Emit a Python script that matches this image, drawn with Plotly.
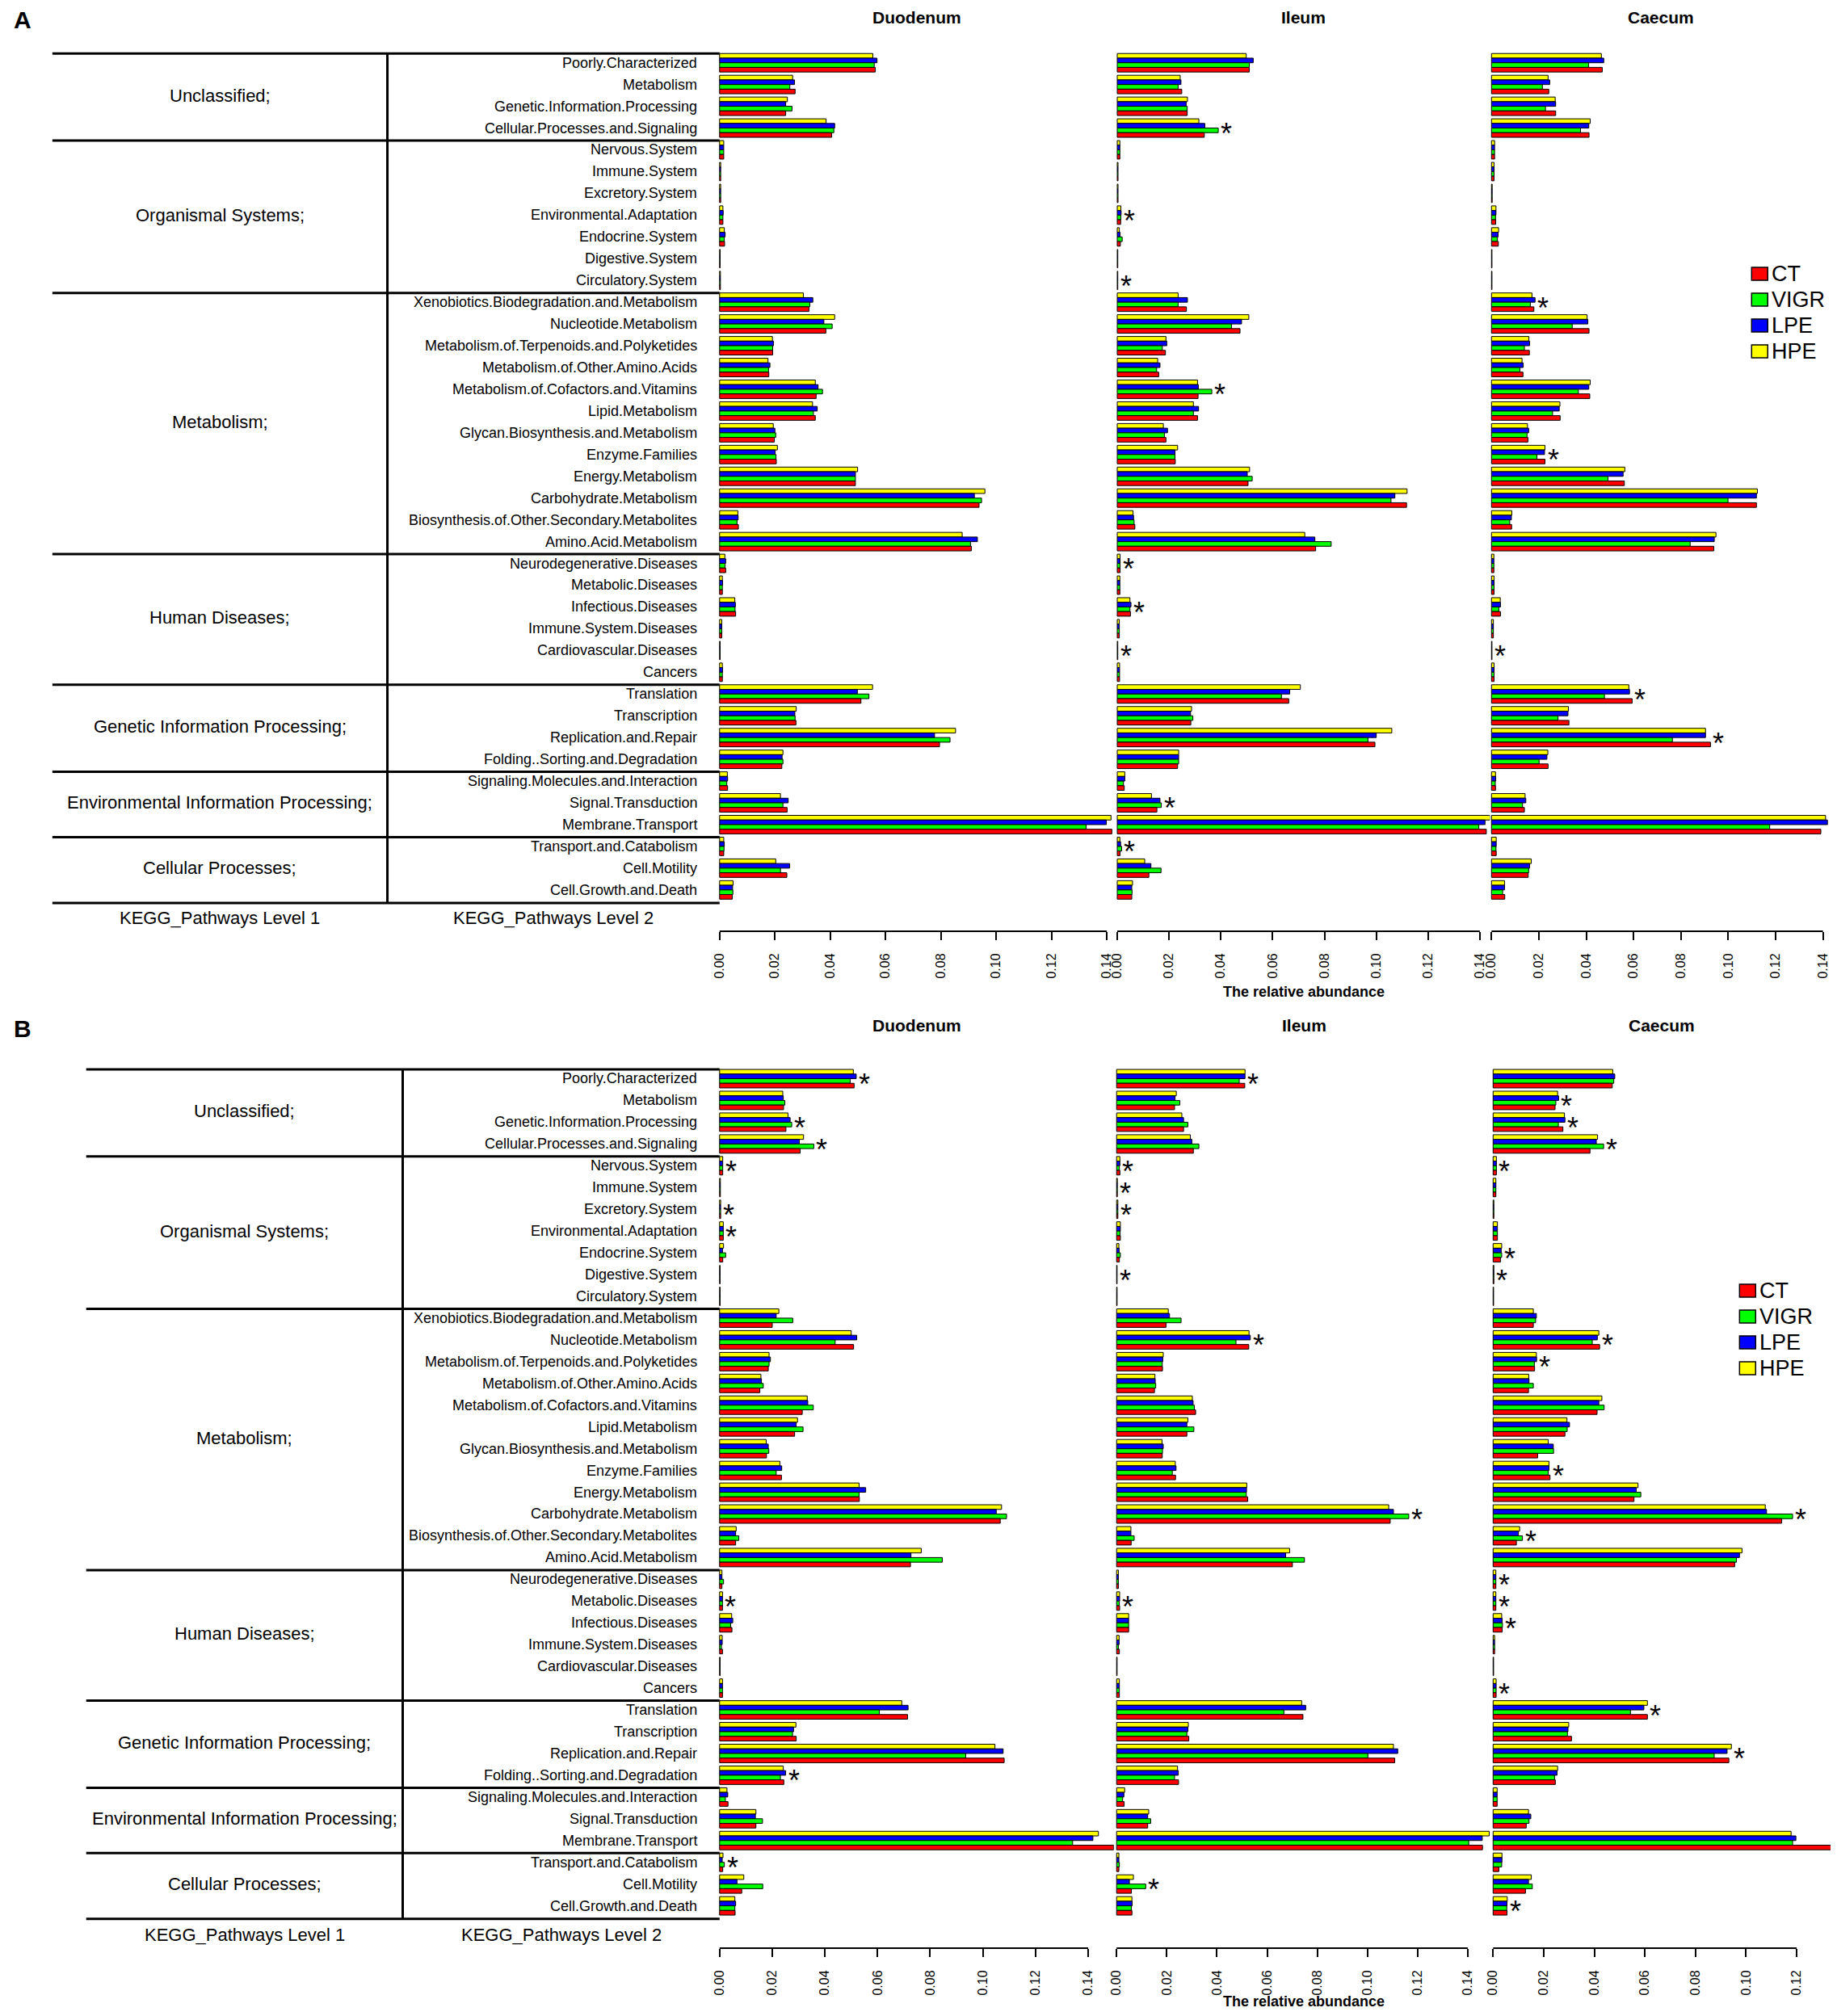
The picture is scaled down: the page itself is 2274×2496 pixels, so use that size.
"""
KEGG level-2 pathway abundance (PICRUSt style) for Duodenum, Ileum and Caecum,
two panels (A, B), grouped horizontal bars for CT / VIGR / LPE / HPE.
"""

import plotly.graph_objects as go

# ---------------------------------------------------------------- data
LEVEL1 = ["Unclassified;", "Organismal Systems;", "Metabolism;", "Human Diseases;",
          "Genetic Information Processing;", "Environmental Information Processing;",
          "Cellular Processes;"]
LEVEL1_COUNTS = [4, 7, 12, 6, 4, 3, 3]

LEVEL2 = ["Poorly.Characterized", "Metabolism", "Genetic.Information.Processing",
          "Cellular.Processes.and.Signaling", "Nervous.System", "Immune.System",
          "Excretory.System", "Environmental.Adaptation", "Endocrine.System",
          "Digestive.System", "Circulatory.System",
          "Xenobiotics.Biodegradation.and.Metabolism", "Nucleotide.Metabolism",
          "Metabolism.of.Terpenoids.and.Polyketides", "Metabolism.of.Other.Amino.Acids",
          "Metabolism.of.Cofactors.and.Vitamins", "Lipid.Metabolism",
          "Glycan.Biosynthesis.and.Metabolism", "Enzyme.Families", "Energy.Metabolism",
          "Carbohydrate.Metabolism", "Biosynthesis.of.Other.Secondary.Metabolites",
          "Amino.Acid.Metabolism", "Neurodegenerative.Diseases", "Metabolic.Diseases",
          "Infectious.Diseases", "Immune.System.Diseases", "Cardiovascular.Diseases",
          "Cancers", "Translation", "Transcription", "Replication.and.Repair",
          "Folding..Sorting.and.Degradation", "Signaling.Molecules.and.Interaction",
          "Signal.Transduction", "Membrane.Transport", "Transport.and.Catabolism",
          "Cell.Motility", "Cell.Growth.and.Death"]

GROUPS = ["CT", "VIGR", "LPE", "HPE"]
COLORS = {"CT": "#FF0000", "VIGR": "#00FF00", "LPE": "#0000FF", "HPE": "#FFFF00"}
SITES = ["Duodenum", "Ileum", "Caecum"]

# panel A - Duodenum
A_DUO_CT = [0.0563, 0.0273, 0.0239, 0.0405, 0.0015, 0.0004, 0.0004, 0.0012, 0.0018, 0.0002, 0.0003, 0.0323, 0.0384, 0.0192, 0.0178, 0.0349, 0.0346, 0.0198, 0.0205, 0.0491, 0.0938, 0.0068, 0.0910, 0.0022, 0.0010, 0.0058, 0.0008, 0.0002, 0.0010, 0.0511, 0.0276, 0.0795, 0.0225, 0.0029, 0.0244, 0.1418, 0.0015, 0.0243, 0.0046]
A_DUO_VIGR = [0.0559, 0.0254, 0.0262, 0.0413, 0.0015, 0.0004, 0.0004, 0.0012, 0.0017, 0.0002, 0.0003, 0.0326, 0.0407, 0.0192, 0.0177, 0.0372, 0.0339, 0.0203, 0.0204, 0.0491, 0.0947, 0.0063, 0.0907, 0.0020, 0.0010, 0.0056, 0.0008, 0.0002, 0.0010, 0.0540, 0.0273, 0.0833, 0.0229, 0.0026, 0.0229, 0.1325, 0.0016, 0.0220, 0.0048]
A_DUO_LPE = [0.0569, 0.0271, 0.0239, 0.0416, 0.0015, 0.0004, 0.0004, 0.0013, 0.0020, 0.0002, 0.0003, 0.0337, 0.0377, 0.0195, 0.0182, 0.0356, 0.0353, 0.0200, 0.0201, 0.0491, 0.0921, 0.0067, 0.0932, 0.0022, 0.0011, 0.0057, 0.0008, 0.0002, 0.0011, 0.0498, 0.0272, 0.0777, 0.0226, 0.0029, 0.0248, 0.1398, 0.0017, 0.0253, 0.0047]
A_DUO_HPE = [0.0554, 0.0264, 0.0245, 0.0385, 0.0015, 0.0004, 0.0004, 0.0012, 0.0017, 0.0002, 0.0003, 0.0303, 0.0416, 0.0191, 0.0175, 0.0346, 0.0336, 0.0194, 0.0209, 0.0499, 0.0959, 0.0066, 0.0877, 0.0019, 0.0010, 0.0055, 0.0008, 0.0002, 0.0010, 0.0553, 0.0277, 0.0853, 0.0229, 0.0028, 0.0220, 0.1415, 0.0015, 0.0203, 0.0049]

# panel A - Ileum
A_ILE_CT = [0.0510, 0.0249, 0.0270, 0.0336, 0.0010, 0.0003, 0.0003, 0.0013, 0.0012, 0.0002, 0.0002, 0.0267, 0.0474, 0.0186, 0.0160, 0.0312, 0.0310, 0.0188, 0.0224, 0.0505, 0.1117, 0.0068, 0.0766, 0.0011, 0.0010, 0.0051, 0.0008, 0.0002, 0.0009, 0.0662, 0.0284, 0.0995, 0.0233, 0.0027, 0.0153, 0.1425, 0.0011, 0.0122, 0.0056]
A_ILE_VIGR = [0.0510, 0.0235, 0.0270, 0.0390, 0.0010, 0.0003, 0.0003, 0.0014, 0.0019, 0.0002, 0.0002, 0.0235, 0.0441, 0.0174, 0.0152, 0.0365, 0.0294, 0.0182, 0.0223, 0.0521, 0.1057, 0.0065, 0.0826, 0.0011, 0.0010, 0.0049, 0.0008, 0.0002, 0.0009, 0.0634, 0.0292, 0.0968, 0.0237, 0.0024, 0.0170, 0.1396, 0.0017, 0.0169, 0.0057]
A_ILE_LPE = [0.0525, 0.0246, 0.0266, 0.0338, 0.0010, 0.0003, 0.0003, 0.0015, 0.0011, 0.0002, 0.0002, 0.0271, 0.0480, 0.0191, 0.0165, 0.0313, 0.0314, 0.0194, 0.0223, 0.0502, 0.1072, 0.0063, 0.0763, 0.0011, 0.0010, 0.0053, 0.0008, 0.0002, 0.0009, 0.0666, 0.0283, 0.1000, 0.0237, 0.0029, 0.0165, 0.1420, 0.0013, 0.0130, 0.0056]
A_ILE_HPE = [0.0498, 0.0243, 0.0271, 0.0315, 0.0010, 0.0003, 0.0003, 0.0014, 0.0008, 0.0002, 0.0002, 0.0235, 0.0508, 0.0188, 0.0156, 0.0310, 0.0294, 0.0178, 0.0233, 0.0511, 0.1119, 0.0061, 0.0724, 0.0011, 0.0010, 0.0049, 0.0008, 0.0002, 0.0009, 0.0707, 0.0287, 0.1060, 0.0237, 0.0029, 0.0132, 0.1440, 0.0010, 0.0106, 0.0059]

# panel A - Caecum
A_CAE_CT = [0.0468, 0.0242, 0.0271, 0.0412, 0.0013, 0.0011, 0.0003, 0.0018, 0.0029, 0.0002, 0.0002, 0.0179, 0.0412, 0.0160, 0.0133, 0.0415, 0.0290, 0.0154, 0.0226, 0.0561, 0.1119, 0.0085, 0.0939, 0.0010, 0.0011, 0.0038, 0.0008, 0.0002, 0.0011, 0.0594, 0.0327, 0.0925, 0.0239, 0.0017, 0.0139, 0.1391, 0.0020, 0.0155, 0.0056]
A_CAE_VIGR = [0.0410, 0.0215, 0.0228, 0.0376, 0.0013, 0.0011, 0.0003, 0.0017, 0.0025, 0.0002, 0.0002, 0.0164, 0.0341, 0.0139, 0.0120, 0.0367, 0.0258, 0.0150, 0.0192, 0.0492, 0.0999, 0.0077, 0.0839, 0.0010, 0.0011, 0.0031, 0.0008, 0.0002, 0.0011, 0.0477, 0.0281, 0.0764, 0.0201, 0.0016, 0.0131, 0.1175, 0.0019, 0.0157, 0.0047]
A_CAE_LPE = [0.0474, 0.0246, 0.0271, 0.0411, 0.0013, 0.0011, 0.0003, 0.0019, 0.0028, 0.0002, 0.0002, 0.0184, 0.0407, 0.0161, 0.0134, 0.0411, 0.0286, 0.0157, 0.0224, 0.0556, 0.1119, 0.0084, 0.0941, 0.0010, 0.0011, 0.0038, 0.0008, 0.0002, 0.0011, 0.0583, 0.0323, 0.0904, 0.0234, 0.0018, 0.0145, 0.1419, 0.0020, 0.0161, 0.0055]
A_CAE_HPE = [0.0464, 0.0239, 0.0269, 0.0417, 0.0013, 0.0011, 0.0003, 0.0019, 0.0030, 0.0002, 0.0002, 0.0171, 0.0404, 0.0158, 0.0129, 0.0417, 0.0289, 0.0152, 0.0226, 0.0563, 0.1123, 0.0086, 0.0948, 0.0010, 0.0011, 0.0037, 0.0008, 0.0002, 0.0011, 0.0580, 0.0325, 0.0904, 0.0238, 0.0017, 0.0142, 0.1411, 0.0020, 0.0168, 0.0055]

# panel B - Duodenum
B_DUO_CT = [0.0511, 0.0243, 0.0252, 0.0306, 0.0012, 0.0003, 0.0004, 0.0014, 0.0012, 0.0002, 0.0002, 0.0200, 0.0509, 0.0185, 0.0153, 0.0314, 0.0285, 0.0178, 0.0235, 0.0531, 0.1066, 0.0061, 0.0725, 0.0009, 0.0011, 0.0047, 0.0011, 0.0002, 0.0011, 0.0714, 0.0291, 0.1081, 0.0244, 0.0032, 0.0138, 0.1497, 0.0012, 0.0084, 0.0059]
B_DUO_VIGR = [0.0496, 0.0248, 0.0274, 0.0358, 0.0012, 0.0003, 0.0004, 0.0014, 0.0023, 0.0002, 0.0002, 0.0278, 0.0439, 0.0188, 0.0166, 0.0356, 0.0317, 0.0187, 0.0215, 0.0530, 0.1090, 0.0073, 0.0846, 0.0015, 0.0011, 0.0042, 0.0007, 0.0002, 0.0011, 0.0607, 0.0277, 0.0935, 0.0231, 0.0022, 0.0163, 0.1341, 0.0018, 0.0164, 0.0058]
B_DUO_LPE = [0.0519, 0.0242, 0.0268, 0.0303, 0.0012, 0.0003, 0.0004, 0.0014, 0.0011, 0.0002, 0.0002, 0.0215, 0.0521, 0.0193, 0.0159, 0.0335, 0.0291, 0.0185, 0.0236, 0.0555, 0.1051, 0.0061, 0.0727, 0.0009, 0.0011, 0.0050, 0.0010, 0.0002, 0.0011, 0.0716, 0.0281, 0.1077, 0.0251, 0.0031, 0.0136, 0.1418, 0.0010, 0.0066, 0.0061]
B_DUO_HPE = [0.0508, 0.0240, 0.0260, 0.0319, 0.0012, 0.0003, 0.0004, 0.0014, 0.0015, 0.0002, 0.0002, 0.0225, 0.0500, 0.0188, 0.0157, 0.0333, 0.0296, 0.0177, 0.0229, 0.0530, 0.1071, 0.0063, 0.0766, 0.0009, 0.0011, 0.0046, 0.0010, 0.0002, 0.0011, 0.0692, 0.0290, 0.1046, 0.0242, 0.0028, 0.0138, 0.1439, 0.0013, 0.0092, 0.0058]

# panel B - Ileum
B_ILE_CT = [0.0511, 0.0231, 0.0267, 0.0306, 0.0013, 0.0003, 0.0005, 0.0015, 0.0011, 0.0002, 0.0002, 0.0197, 0.0527, 0.0183, 0.0151, 0.0315, 0.0280, 0.0182, 0.0235, 0.0523, 0.1091, 0.0058, 0.0701, 0.0007, 0.0012, 0.0048, 0.0011, 0.0002, 0.0011, 0.0743, 0.0288, 0.1109, 0.0247, 0.0030, 0.0124, 0.1459, 0.0009, 0.0059, 0.0061]
B_ILE_VIGR = [0.0489, 0.0252, 0.0284, 0.0328, 0.0011, 0.0003, 0.0005, 0.0014, 0.0015, 0.0002, 0.0002, 0.0257, 0.0476, 0.0182, 0.0156, 0.0310, 0.0308, 0.0183, 0.0222, 0.0517, 0.1165, 0.0070, 0.0749, 0.0007, 0.0011, 0.0048, 0.0007, 0.0002, 0.0011, 0.0667, 0.0280, 0.1002, 0.0231, 0.0024, 0.0136, 0.1404, 0.0011, 0.0116, 0.0059]
B_ILE_LPE = [0.0512, 0.0233, 0.0267, 0.0300, 0.0013, 0.0003, 0.0005, 0.0015, 0.0010, 0.0002, 0.0002, 0.0211, 0.0533, 0.0184, 0.0154, 0.0305, 0.0280, 0.0186, 0.0237, 0.0518, 0.1104, 0.0057, 0.0674, 0.0007, 0.0012, 0.0048, 0.0010, 0.0002, 0.0011, 0.0754, 0.0284, 0.1121, 0.0246, 0.0029, 0.0124, 0.1458, 0.0009, 0.0051, 0.0062]
B_ILE_HPE = [0.0512, 0.0238, 0.0260, 0.0294, 0.0013, 0.0003, 0.0005, 0.0015, 0.0009, 0.0002, 0.0002, 0.0206, 0.0528, 0.0186, 0.0153, 0.0302, 0.0284, 0.0181, 0.0234, 0.0519, 0.1085, 0.0057, 0.0690, 0.0007, 0.0012, 0.0048, 0.0010, 0.0002, 0.0011, 0.0738, 0.0286, 0.1104, 0.0243, 0.0032, 0.0128, 0.1486, 0.0009, 0.0067, 0.0061]

# panel B - Caecum
B_CAE_CT = [0.0471, 0.0245, 0.0276, 0.0383, 0.0013, 0.0011, 0.0003, 0.0017, 0.0029, 0.0003, 0.0002, 0.0159, 0.0421, 0.0164, 0.0140, 0.0411, 0.0284, 0.0176, 0.0225, 0.0557, 0.1141, 0.0092, 0.0955, 0.0011, 0.0011, 0.0036, 0.0006, 0.0002, 0.0012, 0.0610, 0.0310, 0.0932, 0.0246, 0.0016, 0.0131, 0.1344, 0.0023, 0.0128, 0.0055]
B_CAE_VIGR = [0.0477, 0.0248, 0.0258, 0.0437, 0.0013, 0.0011, 0.0003, 0.0017, 0.0034, 0.0003, 0.0002, 0.0168, 0.0392, 0.0163, 0.0159, 0.0439, 0.0293, 0.0239, 0.0218, 0.0584, 0.1184, 0.0116, 0.0962, 0.0011, 0.0011, 0.0037, 0.0006, 0.0002, 0.0012, 0.0543, 0.0294, 0.0874, 0.0243, 0.0016, 0.0142, 0.1184, 0.0034, 0.0155, 0.0054]
B_CAE_LPE = [0.0481, 0.0259, 0.0284, 0.0408, 0.0013, 0.0011, 0.0003, 0.0017, 0.0032, 0.0003, 0.0002, 0.0171, 0.0412, 0.0172, 0.0142, 0.0418, 0.0302, 0.0238, 0.0221, 0.0566, 0.1081, 0.0100, 0.0974, 0.0011, 0.0011, 0.0036, 0.0006, 0.0002, 0.0012, 0.0596, 0.0296, 0.0925, 0.0253, 0.0016, 0.0149, 0.1197, 0.0035, 0.0140, 0.0055]
B_CAE_HPE = [0.0473, 0.0255, 0.0282, 0.0413, 0.0013, 0.0011, 0.0003, 0.0017, 0.0034, 0.0003, 0.0002, 0.0159, 0.0418, 0.0171, 0.0141, 0.0430, 0.0292, 0.0218, 0.0221, 0.0573, 0.1076, 0.0105, 0.0984, 0.0011, 0.0011, 0.0034, 0.0006, 0.0002, 0.0012, 0.0610, 0.0299, 0.0942, 0.0255, 0.0016, 0.0140, 0.1178, 0.0035, 0.0151, 0.0056]

# pathways marked as significant (*)
A_DUO_SIG = []
A_ILE_SIG = ["Cellular.Processes.and.Signaling", "Environmental.Adaptation", "Circulatory.System",
             "Metabolism.of.Cofactors.and.Vitamins", "Neurodegenerative.Diseases",
             "Infectious.Diseases", "Cardiovascular.Diseases", "Signal.Transduction",
             "Transport.and.Catabolism"]
A_CAE_SIG = ["Xenobiotics.Biodegradation.and.Metabolism", "Enzyme.Families",
             "Cardiovascular.Diseases", "Translation", "Replication.and.Repair"]
B_DUO_SIG = ["Poorly.Characterized", "Genetic.Information.Processing",
             "Cellular.Processes.and.Signaling", "Nervous.System", "Excretory.System",
             "Environmental.Adaptation", "Metabolic.Diseases",
             "Folding..Sorting.and.Degradation", "Transport.and.Catabolism"]
B_ILE_SIG = ["Poorly.Characterized", "Nervous.System", "Immune.System", "Excretory.System",
             "Digestive.System", "Nucleotide.Metabolism", "Carbohydrate.Metabolism",
             "Metabolic.Diseases", "Cell.Motility"]
B_CAE_SIG = ["Metabolism", "Genetic.Information.Processing", "Cellular.Processes.and.Signaling",
             "Nervous.System", "Endocrine.System", "Digestive.System", "Nucleotide.Metabolism",
             "Metabolism.of.Terpenoids.and.Polyketides", "Enzyme.Families",
             "Carbohydrate.Metabolism", "Biosynthesis.of.Other.Secondary.Metabolites",
             "Neurodegenerative.Diseases", "Metabolic.Diseases", "Infectious.Diseases",
             "Cancers", "Translation", "Replication.and.Repair", "Cell.Growth.and.Death"]

TICKS_14 = [0.00, 0.02, 0.04, 0.06, 0.08, 0.10, 0.12, 0.14]
TICKS_12 = [0.00, 0.02, 0.04, 0.06, 0.08, 0.10, 0.12]

# ---------------------------------------------------------------- layout geometry (pixels)
PAGE_W, PAGE_H = 2274, 2496
BODY = 8                      # default <body> margin of the html page
W, H = PAGE_W - 2 * BODY, PAGE_H - 2 * BODY
FONT = "Liberation Sans, Arial, Helvetica, sans-serif"
ROW_PITCH = 26.95
EDGE = 0.075                  # table lines sit on the bar-group edges, not mid-gap


def px(x):
    return min(max((x - BODY) / W, 0.0), 1.0)


def py(y):
    return min(max(1 - (y - BODY) / H, 0.0), 1.0)


panels = [
    dict(tag="A", row0=77.7, title_y=21, axis_y=1153, xlab_y=1228, kegg_y=1136,
         tab_left=58, tab_mid=474, legend_x=2168, legend_y=339,
         cols=[(886.5, 3435, 1376), (1380.3, 3216, 1843), (1845, 2940, 2266)],
         ticks=[TICKS_14, TICKS_14, TICKS_14],
         data=[dict(CT=A_DUO_CT, VIGR=A_DUO_VIGR, LPE=A_DUO_LPE, HPE=A_DUO_HPE),
               dict(CT=A_ILE_CT, VIGR=A_ILE_VIGR, LPE=A_ILE_LPE, HPE=A_ILE_HPE),
               dict(CT=A_CAE_CT, VIGR=A_CAE_VIGR, LPE=A_CAE_LPE, HPE=A_CAE_HPE)],
         sig=[A_DUO_SIG, A_ILE_SIG, A_CAE_SIG]),
    dict(tag="B", row0=1335.5, title_y=1269, axis_y=2412, xlab_y=2478, kegg_y=2395,
         tab_left=100, tab_mid=493, legend_x=2153, legend_y=1598,
         cols=[(886.5, 3269, 1376), (1379.5, 3114, 1845), (1847, 3141, 2266)],
         ticks=[TICKS_14, TICKS_14, TICKS_12],
         data=[dict(CT=B_DUO_CT, VIGR=B_DUO_VIGR, LPE=B_DUO_LPE, HPE=B_DUO_HPE),
               dict(CT=B_ILE_CT, VIGR=B_ILE_VIGR, LPE=B_ILE_LPE, HPE=B_ILE_HPE),
               dict(CT=B_CAE_CT, VIGR=B_CAE_VIGR, LPE=B_CAE_LPE, HPE=B_CAE_HPE)],
         sig=[B_DUO_SIG, B_ILE_SIG, B_CAE_SIG]),
]

fig = go.Figure()
shapes, annotations, axes = [], [], {}
n = len(LEVEL2)

for p, pan in enumerate(panels):
    yname = "y" if p == 0 else "y2"
    ykey = "yaxis" if p == 0 else "yaxis2"
    top = pan["row0"] - ROW_PITCH / 2
    bottom = top + n * ROW_PITCH
    axes[ykey] = dict(domain=[py(bottom), py(top)], type="category",
                      categoryorder="array", categoryarray=LEVEL2,
                      range=[n - 0.5, -0.5], showticklabels=False, showgrid=False,
                      zeroline=False, showline=False, ticks="")

    for c, (zero, ppu, right) in enumerate(pan["cols"]):
        k = p * 3 + c + 1
        xname = "x" if k == 1 else f"x{k}"
        xkey = "xaxis" if k == 1 else f"xaxis{k}"
        pad = 2.0
        ticks = pan["ticks"][c]
        axes[xkey] = dict(domain=[px(zero - pad), px(right)],
                          range=[-pad / ppu, (right - zero) / ppu],
                          anchor="free", position=py(pan["axis_y"]),
                          tickvals=ticks, ticktext=[f"{v:.2f}" for v in ticks],
                          ticks="outside", ticklen=10, tickwidth=2, tickcolor="black",
                          ticklabelstandoff=10,
                          tickangle=-90, tickfont=dict(family=FONT, size=16, color="black"),
                          showgrid=False, zeroline=False, showline=False)

        vals = pan["data"][c]
        # top to bottom inside each group: HPE, LPE, VIGR, CT
        for g in ["HPE", "LPE", "VIGR", "CT"]:
            fig.add_trace(go.Bar(
                x=vals[g], y=LEVEL2, orientation="h", name=g,
                marker=dict(color=COLORS[g], line=dict(color="black", width=1)),
                xaxis=xname, yaxis=yname, showlegend=False,
            ))

        # axis line from 0 to the last tick (R style)
        shapes.append(dict(type="line", xref=xname, yref="paper",
                           x0=0, x1=ticks[-1], y0=py(pan["axis_y"]), y1=py(pan["axis_y"]),
                           line=dict(color="black", width=2)))

        # site title
        annotations.append(dict(text=f"<b>{SITES[c]}</b>", xref="paper", yref="paper",
                                x=px((zero + right) / 2), y=py(pan["title_y"]),
                                xanchor="center", yanchor="middle", showarrow=False,
                                font=dict(family=FONT, size=21, color="black")))

        # significance stars
        for name in pan["sig"][c]:
            i = LEVEL2.index(name)
            top_val = max(vals[g][i] for g in GROUPS)
            annotations.append(dict(text="*", xref=xname, yref=yname, x=top_val, y=i,
                                    xanchor="left", yanchor="middle", showarrow=False,
                                    xshift=1, yshift=-7,
                                    font=dict(family=FONT, size=36, color="black")))

    # x axis title under the middle column
    zero, ppu, right = pan["cols"][1]
    annotations.append(dict(text="<b>The relative abundance</b>", xref="paper", yref="paper",
                            x=px((zero + right) / 2), y=py(pan["xlab_y"]),
                            xanchor="center", yanchor="middle", showarrow=False,
                            font=dict(family=FONT, size=18, color="black")))

    # panel letter
    annotations.append(dict(text=f"<b>{pan['tag']}</b>", xref="paper", yref="paper",
                            x=px(8), y=py(pan["title_y"] + 4), xanchor="left",
                            yanchor="middle", showarrow=False,
                            font=dict(family=FONT, size=30, color="black")))

    # table of KEGG levels (lines in page pixels so the bottom one is not clipped)
    left, mid, zero0 = pan["tab_left"], pan["tab_mid"], pan["cols"][0][0]
    start = 0
    bounds = [0]
    for label, cnt in zip(LEVEL1, LEVEL1_COUNTS):
        annotations.append(dict(text=label, xref="paper", yref=yname,
                                x=px((left + mid) / 2), y=start + (cnt - 1) / 2,
                                xanchor="center", yanchor="middle", showarrow=False,
                                font=dict(family=FONT, size=22, color="black")))
        start += cnt
        bounds.append(start)
    line_px = [top + (b + EDGE) * ROW_PITCH for b in bounds[:-1]]
    line_px.append(top + (bounds[-1] + 0.1) * ROW_PITCH)
    for ly in line_px:
        shapes.append(dict(type="line", xref="paper", yref="paper",
                           x0=px(left), x1=px(zero0), y0=py(ly), y1=py(ly),
                           line=dict(color="black", width=3)))
    shapes.append(dict(type="line", xref="paper", yref="paper",
                       x0=px(mid), x1=px(mid), y0=py(line_px[0]), y1=py(line_px[-1]),
                       line=dict(color="black", width=3)))
    for i, name in enumerate(LEVEL2):
        annotations.append(dict(text=name, xref="paper", yref=yname,
                                x=px(861), y=i, xanchor="right", yanchor="middle",
                                showarrow=False,
                                font=dict(family=FONT, size=18, color="black")))
    for txt, xc in [("KEGG_Pathways Level 1", (left + mid) / 2),
                    ("KEGG_Pathways Level 2", (mid + zero0) / 2)]:
        annotations.append(dict(text=txt, xref="paper", yref="paper",
                                x=px(xc), y=py(pan["kegg_y"]), xanchor="center",
                                yanchor="middle", showarrow=False,
                                font=dict(family=FONT, size=22, color="black")))

    # legend (drawn by hand, R style)
    for j, g in enumerate(GROUPS):
        yc = pan["legend_y"] + j * 32
        shapes.append(dict(type="rect", xref="paper", yref="paper",
                           x0=px(pan["legend_x"]), x1=px(pan["legend_x"] + 20),
                           y0=py(yc + 8), y1=py(yc - 8),
                           fillcolor=COLORS[g], line=dict(color="black", width=1.5)))
        annotations.append(dict(text=g, xref="paper", yref="paper",
                                x=px(pan["legend_x"] + 23), y=py(yc), xanchor="left",
                                yanchor="middle", showarrow=False,
                                font=dict(family=FONT, size=27, color="black")))

fig.update_layout(
    width=W, height=H, autosize=False,
    margin=dict(l=0, r=0, t=0, b=0, pad=0),
    paper_bgcolor="white", plot_bgcolor="white",
    barmode="group", bargap=0.15, bargroupgap=0,
    showlegend=False,
    shapes=shapes, annotations=annotations,
    font=dict(family=FONT, color="black"),
    **axes,
)

fig.write_html("out.html")
